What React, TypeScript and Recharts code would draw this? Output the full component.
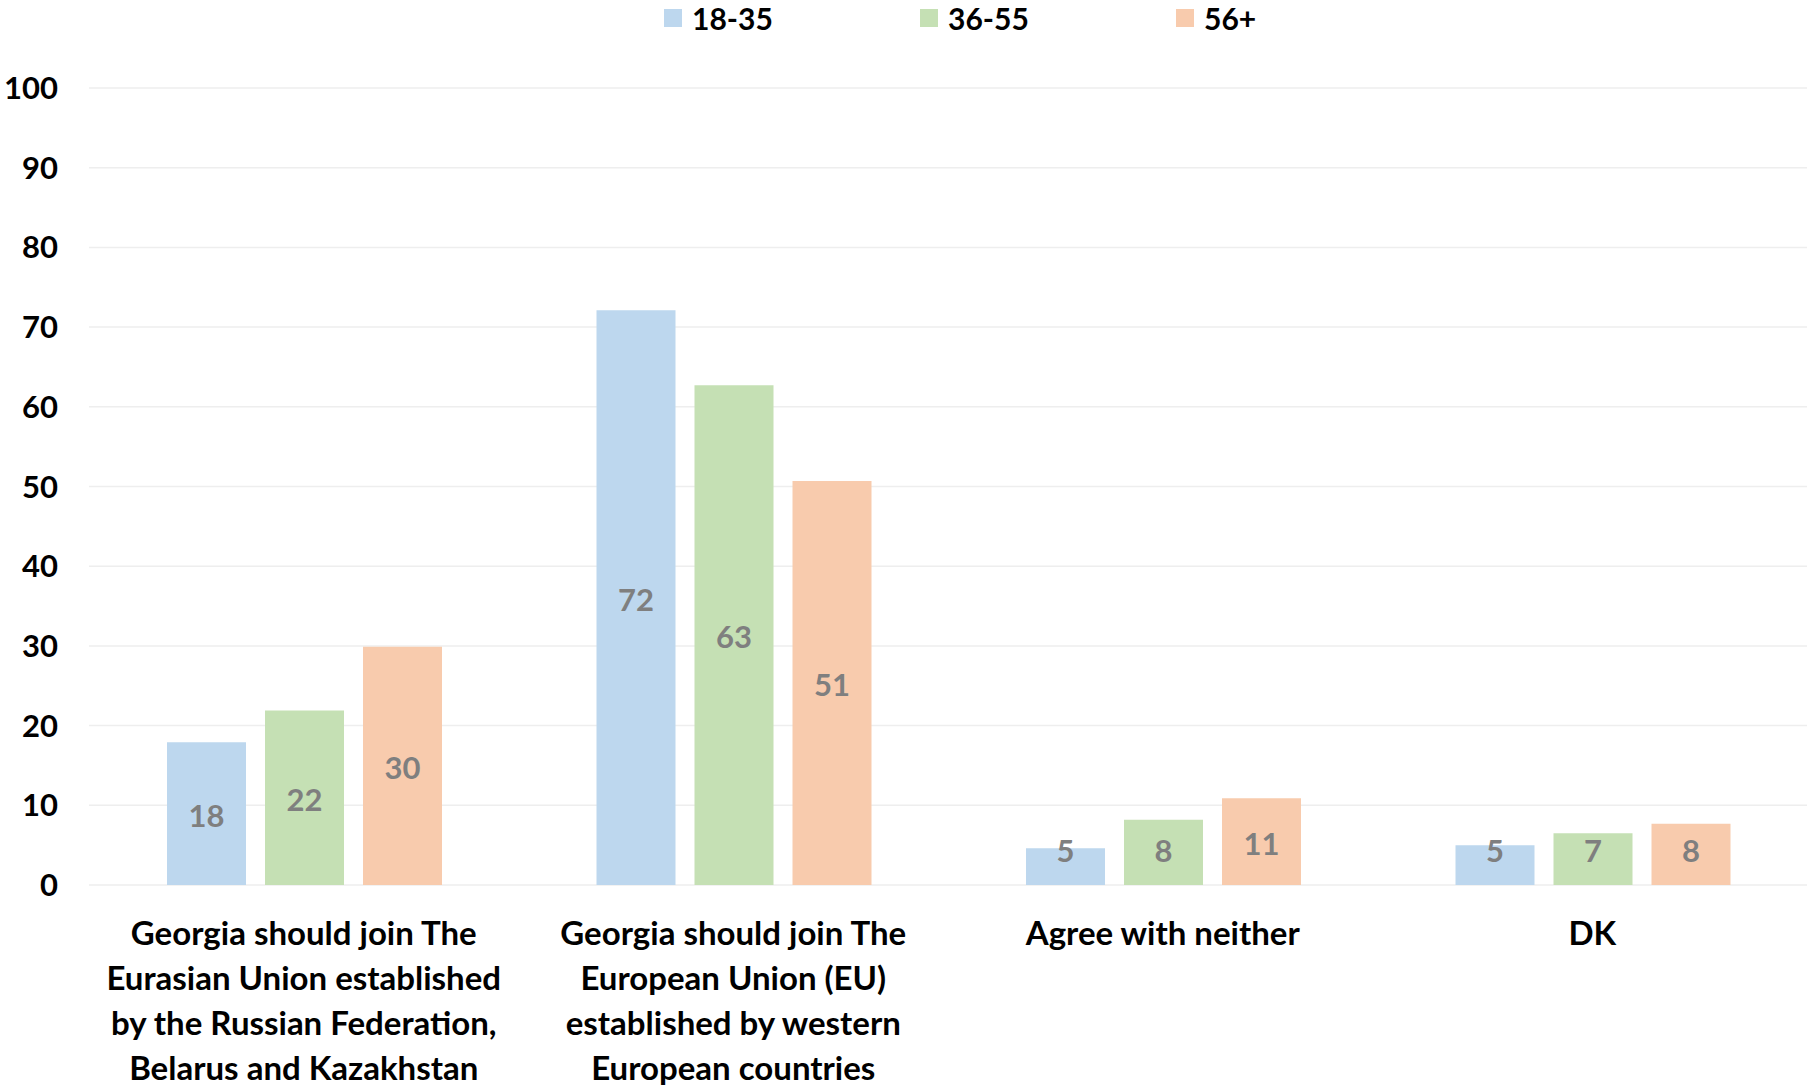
import React from "react";
import {
  BarChart,
  Bar,
  XAxis,
  YAxis,
  CartesianGrid,
  Legend,
  LabelList,
} from "recharts";

const categories = [
  "Georgia should join The\nEurasian Union established\nby the Russian Federation,\nBelarus and Kazakhstan",
  "Georgia should join The\nEuropean Union (EU)\nestablished by western\nEuropean countries",
  "Agree with neither",
  "DK",
];
const seriesNames = ["18-35", "36-55", "56+"];
const age18to35 = [17.9, 72.1, 4.6, 5.0];
const age36to55 = [21.9, 62.7, 8.2, 6.5];
const age56plus = [29.9, 50.7, 10.9, 7.7];
const yTicks = [0, 10, 20, 30, 40, 50, 60, 70, 80, 90, 100];

const colors = ["#BDD7EE", "#C5E0B4", "#F8CBAD"];
const FONT = "Lato, 'Open Sans', sans-serif";

const data = categories.map((name, i) => ({
  name,
  a: age18to35[i],
  b: age36to55[i],
  c: age56plus[i],
}));

const CategoryTick = (props: any) => {
  const { x, y, payload } = props;
  const lines = String(payload.value).split("\n");
  return (
    <text
      x={x}
      y={y}
      textAnchor="middle"
      fill="#000"
      fontFamily={FONT}
      fontWeight={700}
      fontSize={33}
    >
      {lines.map((line, i) => (
        <tspan key={i} x={x} y={y + 60 + i * 45}>
          {line}
        </tspan>
      ))}
    </text>
  );
};

// Excel keeps the label inside the plot bottom for short bars
const ValueLabel = (props: any) => {
  const { x, y, width, height, value } = props;
  const bottom = y + height;
  const cy = Math.min(y + height / 2 + 2, bottom - 34);
  return (
    <text
      x={x + width / 2}
      y={cy}
      dy="0.36em"
      textAnchor="middle"
      fill="#7F7F7F"
      fontFamily={FONT}
      fontWeight={700}
      fontSize={31}
    >
      {Math.round(value)}
    </text>
  );
};

const LegendContent = () => (
  <div style={{ display: "flex", fontFamily: FONT, fontWeight: 700, fontSize: 30 }}>
    {seriesNames.map((s, i) => (
      <div key={s} style={{ width: 256, display: "flex", alignItems: "center" }}>
        <span
          style={{
            display: "inline-block",
            width: 18,
            height: 18,
            background: colors[i],
            marginRight: 10,
          }}
        />
        <span style={{ color: "#000" }}>{s}</span>
      </div>
    ))}
  </div>
);

export default function App() {
  return (
    <div style={{ position: "absolute", left: 0, top: 0, background: "#fff" }}>
      <BarChart
        width={1807}
        height={1088}
        data={data}
        margin={{ top: 88, right: 0, bottom: 0, left: 0 }}
        barCategoryGap={78}
        barGap={19}
      >
        <CartesianGrid vertical={false} stroke="#EEEEEE" strokeWidth={1.5} />
        <XAxis
          dataKey="name"
          interval={0}
          height={203}
          tickLine={false}
          axisLine={false}
          tickSize={0}
          tickMargin={0}
          tick={<CategoryTick />}
        />
        <YAxis
          domain={[0, 100]}
          ticks={yTicks}
          width={89}
          tickLine={false}
          axisLine={false}
          tickSize={0}
          tickMargin={31}
          tick={{ fill: "#000", fontFamily: FONT, fontWeight: 700, fontSize: 31 }}
        />
        <Legend
          verticalAlign="middle"
          align="center"
          content={<LegendContent />}
          wrapperStyle={{ top: 0, left: 664, width: 768, height: 36 }}
        />
        <Bar dataKey="a" name={seriesNames[0]} fill={colors[0]} isAnimationActive={false}>
          <LabelList dataKey="a" content={<ValueLabel />} />
        </Bar>
        <Bar dataKey="b" name={seriesNames[1]} fill={colors[1]} isAnimationActive={false}>
          <LabelList dataKey="b" content={<ValueLabel />} />
        </Bar>
        <Bar dataKey="c" name={seriesNames[2]} fill={colors[2]} isAnimationActive={false}>
          <LabelList dataKey="c" content={<ValueLabel />} />
        </Bar>
      </BarChart>
    </div>
  );
}
